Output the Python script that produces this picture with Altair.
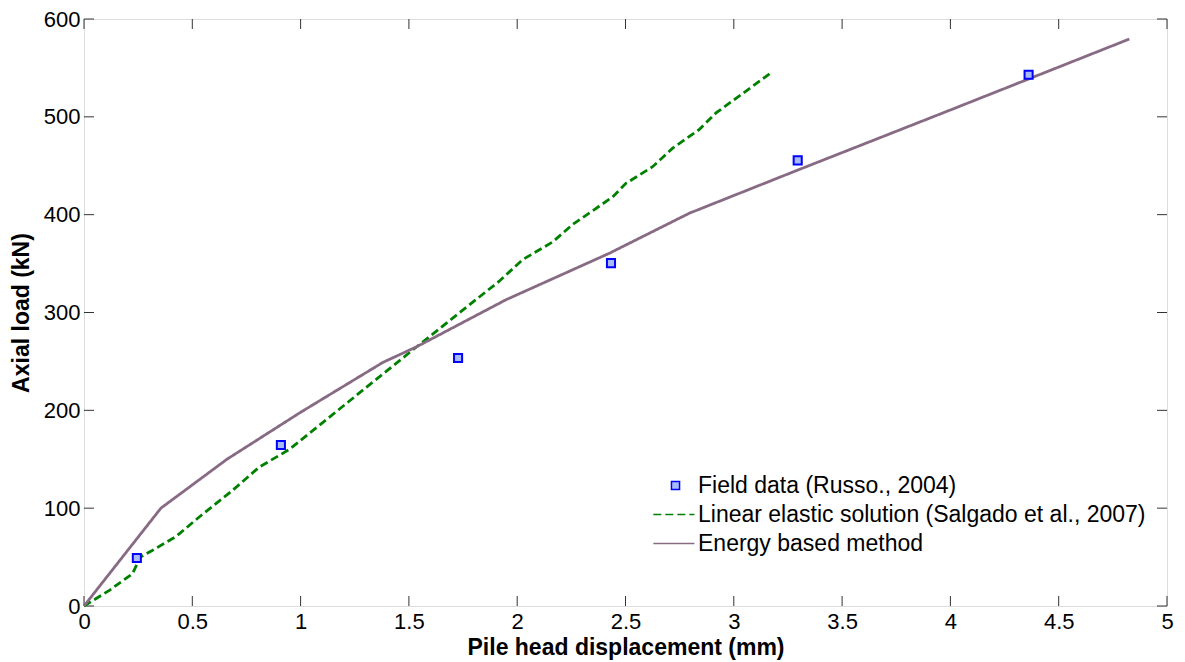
import altair as alt
import pandas as pd

# ---- data ----
field_x = [0.244, 0.909, 1.727, 2.433, 3.295, 4.361]
field_y = [49, 164.5, 253.5, 350.5, 455.5, 543]

lin_x = [0, 0.117, 0.224, 0.26, 0.317, 0.425, 0.532, 0.685, 0.809, 0.948, 1.116,
         1.536, 1.917, 2.025, 2.163, 2.256, 2.44, 2.502, 2.625, 2.718, 2.84, 2.918, 3.172]
lin_y = [0, 16, 33, 50, 57, 71, 91, 118, 142, 160, 190,
         265, 332, 354, 372, 390, 418, 432, 449, 468, 487, 504, 545]

en_x = [0, 0.355, 0.66, 1.0, 1.38, 1.536, 1.948, 2.425, 2.795, 3.3, 4.0, 4.826]
en_y = [0, 100, 150, 198, 249, 265, 313, 360.5, 401.5, 446, 507, 579.5]

series = ["Field data (Russo., 2004)",
          "Linear elastic solution (Salgado et al., 2007)",
          "Energy based method"]
colors = ["#0000ff", "#008000", "#876b84"]

x_ticks = [0, 0.5, 1, 1.5, 2, 2.5, 3, 3.5, 4, 4.5, 5]
y_ticks = [0, 100, 200, 300, 400, 500, 600]

W, H = 1083, 587
FONT = "Liberation Sans"

pts = pd.DataFrame({"x": field_x, "y": field_y, "s": series[0]})
lines = pd.concat([
    pd.DataFrame({"x": lin_x, "y": lin_y, "s": series[1], "o": range(len(lin_x))}),
    pd.DataFrame({"x": en_x, "y": en_y, "s": series[2], "o": range(len(en_x))}),
])

xscale = alt.Scale(domain=[0, 5], nice=False, zero=False)
yscale = alt.Scale(domain=[0, 600], nice=False, zero=False)

xaxis = alt.Axis(values=x_ticks, format="~g", title="Pile head displacement (mm)",
                 grid=False, domain=False, ticks=False, tickSize=0, labelPadding=5,
                 labelFontSize=22, labelFont=FONT, labelColor="#000", labelFlush=False,
                 titleFontSize=23, titleFont=FONT, titleFontWeight="bold",
                 titleColor="#000", titlePadding=4)
yaxis = alt.Axis(values=y_ticks, title="Axial load (kN)",
                 grid=False, domain=False, ticks=False, tickSize=0, labelPadding=4,
                 labelFontSize=22, labelFont=FONT, labelColor="#000", labelFlush=False,
                 titleFontSize=23, titleFont=FONT, titleFontWeight="bold",
                 titleColor="#000", titlePadding=10)

color = alt.Color("s:N", scale=alt.Scale(domain=series, range=colors),
                  legend=alt.Legend(title=None, orient="none", legendX=580, legendY=455,
                                    labelFontSize=23, labelFont=FONT, labelColor="#000",
                                    symbolSize=170, labelOffset=11, rowPadding=5,
                                    labelLimit=700))
shape = alt.Shape("s:N", scale=alt.Scale(
    domain=series,
    range=["M-0.62,-0.62H0.62V0.62H-0.62Z", "M-3.4,0H2.9", "M-3.4,0H2.9"]), legend=None)
dash = alt.StrokeDash("s:N", scale=alt.Scale(domain=series,
                                             range=[[1, 0], [8, 4], [1, 0]]), legend=None)

line_layer = alt.Chart(lines).mark_line(strokeWidth=2.8).encode(
    x=alt.X("x:Q", scale=xscale, axis=xaxis),
    y=alt.Y("y:Q", scale=yscale, axis=yaxis),
    color=color,
    strokeDash=dash,
    order="o:Q",
)

pt_layer = alt.Chart(pts).mark_point(filled=False, fill="#a9bbf7", fillOpacity=1,
                                     size=170, opacity=1).encode(
    x=alt.X("x:Q", scale=xscale),
    y=alt.Y("y:Q", scale=yscale),
    color=color,
    shape=shape,
)

xt = pd.DataFrame({"v": x_ticks})
yt = pd.DataFrame({"v": y_ticks})
tick_col = "#333"
xb = alt.Chart(xt).mark_rule(color=tick_col, strokeWidth=1).encode(
    x=alt.X("v:Q", scale=xscale), y=alt.value(H), y2=alt.value(H - 10))
xtp = alt.Chart(xt).mark_rule(color=tick_col, strokeWidth=1).encode(
    x=alt.X("v:Q", scale=xscale), y=alt.value(0), y2=alt.value(10))
yl = alt.Chart(yt).mark_rule(color=tick_col, strokeWidth=1).encode(
    y=alt.Y("v:Q", scale=yscale), x=alt.value(0), x2=alt.value(10))
yr = alt.Chart(yt).mark_rule(color=tick_col, strokeWidth=1).encode(
    y=alt.Y("v:Q", scale=yscale), x=alt.value(W), x2=alt.value(W - 10))

chart = alt.layer(xb, xtp, yl, yr, line_layer, pt_layer).properties(
    width=W, height=H,
    autosize=alt.AutoSizeParams(type="none"),
    padding={"left": 76, "top": 11, "right": 10, "bottom": 54},
).configure_view(stroke="#000", strokeWidth=1.5).configure(background="white")

chart.save("out.html", embed_options={"renderer": "svg", "actions": False})
